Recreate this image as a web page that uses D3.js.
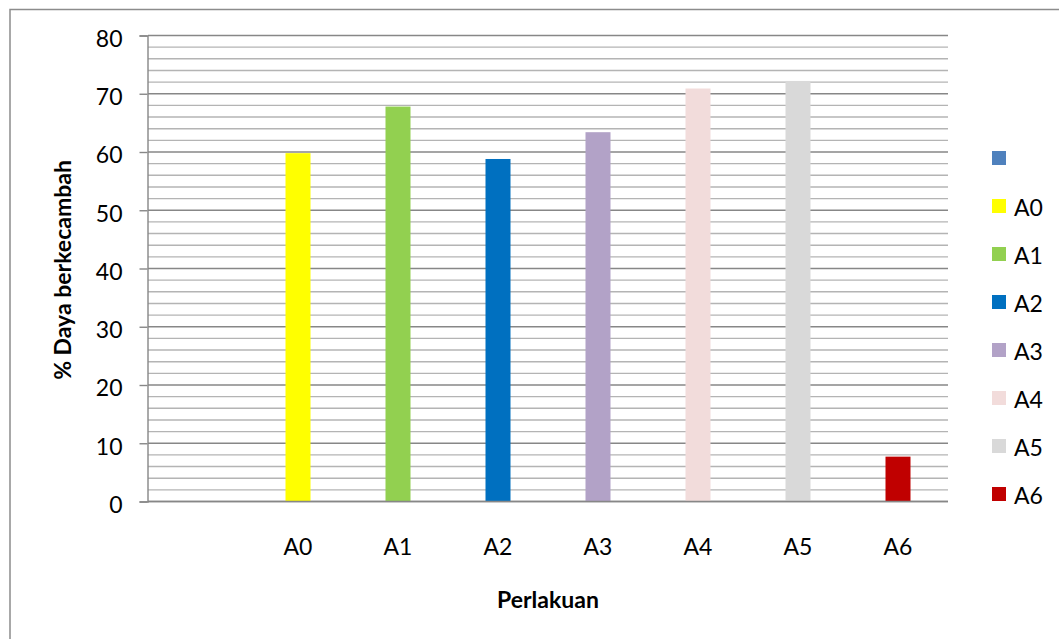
<!DOCTYPE html>
<html>
<head>
<meta charset="utf-8">
<script src="https://cdn.jsdelivr.net/npm/d3@7"></script>
<style>
  body { margin: 0; background: #fff; }
  svg { display: block; font-family: Lato, "Open Sans", sans-serif; }
</style>
</head>
<body>
<svg id="chart" width="1059" height="639"></svg>
<script>
// Germination percentage per treatment
const categories = ["", "A0", "A1", "A2", "A3", "A4", "A5", "A6"];
const values = [null, 59.8, 67.8, 58.8, 63.4, 70.9, 72.2, 7.7];
const seriesNames = ["", "A0", "A1", "A2", "A3", "A4", "A5", "A6"];
const seriesColors = ["#4F81BD", "#FFFF00", "#92D050", "#0070C0", "#B2A2C7", "#F2DCDB", "#D9D9D9", "#C00000"];
const majorTicks = [0, 10, 20, 30, 40, 50, 60, 70, 80];
const minorTicks = d3.range(0, 81, 2);

const svg = d3.select("#chart");

// outer chart frame (top and left edges)
svg.append("path")
  .attr("d", "M10,639 L10,9.5 L1059,9.5")
  .attr("fill", "none")
  .attr("stroke", "#8c8c8c")
  .attr("stroke-width", 1.5);

const x = d3.scaleBand().domain(categories).range([148, 948]);
const y = d3.scaleLinear().domain([0, 80]).range([501.5, 35.5]);

// minor gridlines
svg.append("g").selectAll("line")
  .data(minorTicks.filter(v => v % 10 !== 0))
  .join("line")
  .attr("x1", 148).attr("x2", 948)
  .attr("y1", d => y(d)).attr("y2", d => y(d))
  .attr("stroke", "#b4b4b4").attr("stroke-width", 1.4);

// major gridlines
svg.append("g").selectAll("line")
  .data(majorTicks)
  .join("line")
  .attr("x1", 148).attr("x2", 948)
  .attr("y1", d => y(d)).attr("y2", d => y(d))
  .attr("stroke", "#878787").attr("stroke-width", 1.4);

// bars
const barW = x.bandwidth() * 0.25;
svg.append("g").selectAll("rect")
  .data(categories.map((c, i) => ({ c, v: values[i], color: seriesColors[i] })).filter(d => d.v != null))
  .join("rect")
  .attr("x", d => x(d.c) + x.bandwidth() / 2 - barW / 2)
  .attr("y", d => y(d.v))
  .attr("width", barW)
  .attr("height", d => y(0) - y(d.v))
  .attr("fill", d => d.color);

// baseline
svg.append("line")
  .attr("x1", 148).attr("x2", 948)
  .attr("y1", y(0)).attr("y2", y(0))
  .attr("stroke", "#878787").attr("stroke-width", 1.4);

// y axis
const yAxis = d3.axisLeft(y).tickValues(majorTicks).tickSize(8).tickPadding(17);
const gy = svg.append("g").attr("transform", "translate(147.5,0)").call(yAxis);
gy.select(".domain").attr("stroke", "#878787").attr("stroke-width", 1.4);
gy.selectAll(".tick line").attr("stroke", "#878787").attr("stroke-width", 1.4);
gy.selectAll(".tick text")
  .attr("font-family", "Lato, sans-serif")
  .attr("font-size", 23)
  .attr("fill", "#000")
  .attr("dy", "0.47em");

// x axis labels
const xAxis = d3.axisBottom(x).tickSize(0).tickPadding(0);
const gx = svg.append("g").attr("transform", `translate(0,${y(0)})`).call(xAxis);
gx.select(".domain").remove();
gx.selectAll(".tick text")
  .attr("font-family", "Lato, sans-serif")
  .attr("font-size", 23)
  .attr("fill", "#000")
  .attr("dy", null)
  .attr("y", 53);

// axis titles
svg.append("text")
  .attr("transform", "translate(71,270) rotate(-90)")
  .attr("text-anchor", "middle")
  .attr("font-size", 23)
  .attr("font-weight", "bold")
  .text("% Daya berkecambah");

svg.append("text")
  .attr("x", 548).attr("y", 608)
  .attr("text-anchor", "middle")
  .attr("font-size", 23)
  .attr("font-weight", "bold")
  .text("Perlakuan");

// legend
const legend = svg.append("g").selectAll("g")
  .data(seriesNames.map((n, i) => ({ n, color: seriesColors[i] })))
  .join("g")
  .attr("transform", (d, i) => `translate(992,${199 - 48 + i * 48})`);
legend.append("rect")
  .attr("width", 14).attr("height", 14)
  .attr("fill", d => d.color);
legend.append("text")
  .attr("x", 22).attr("y", 17)
  .attr("font-size", 23)
  .text(d => d.n);
</script>
</body>
</html>
